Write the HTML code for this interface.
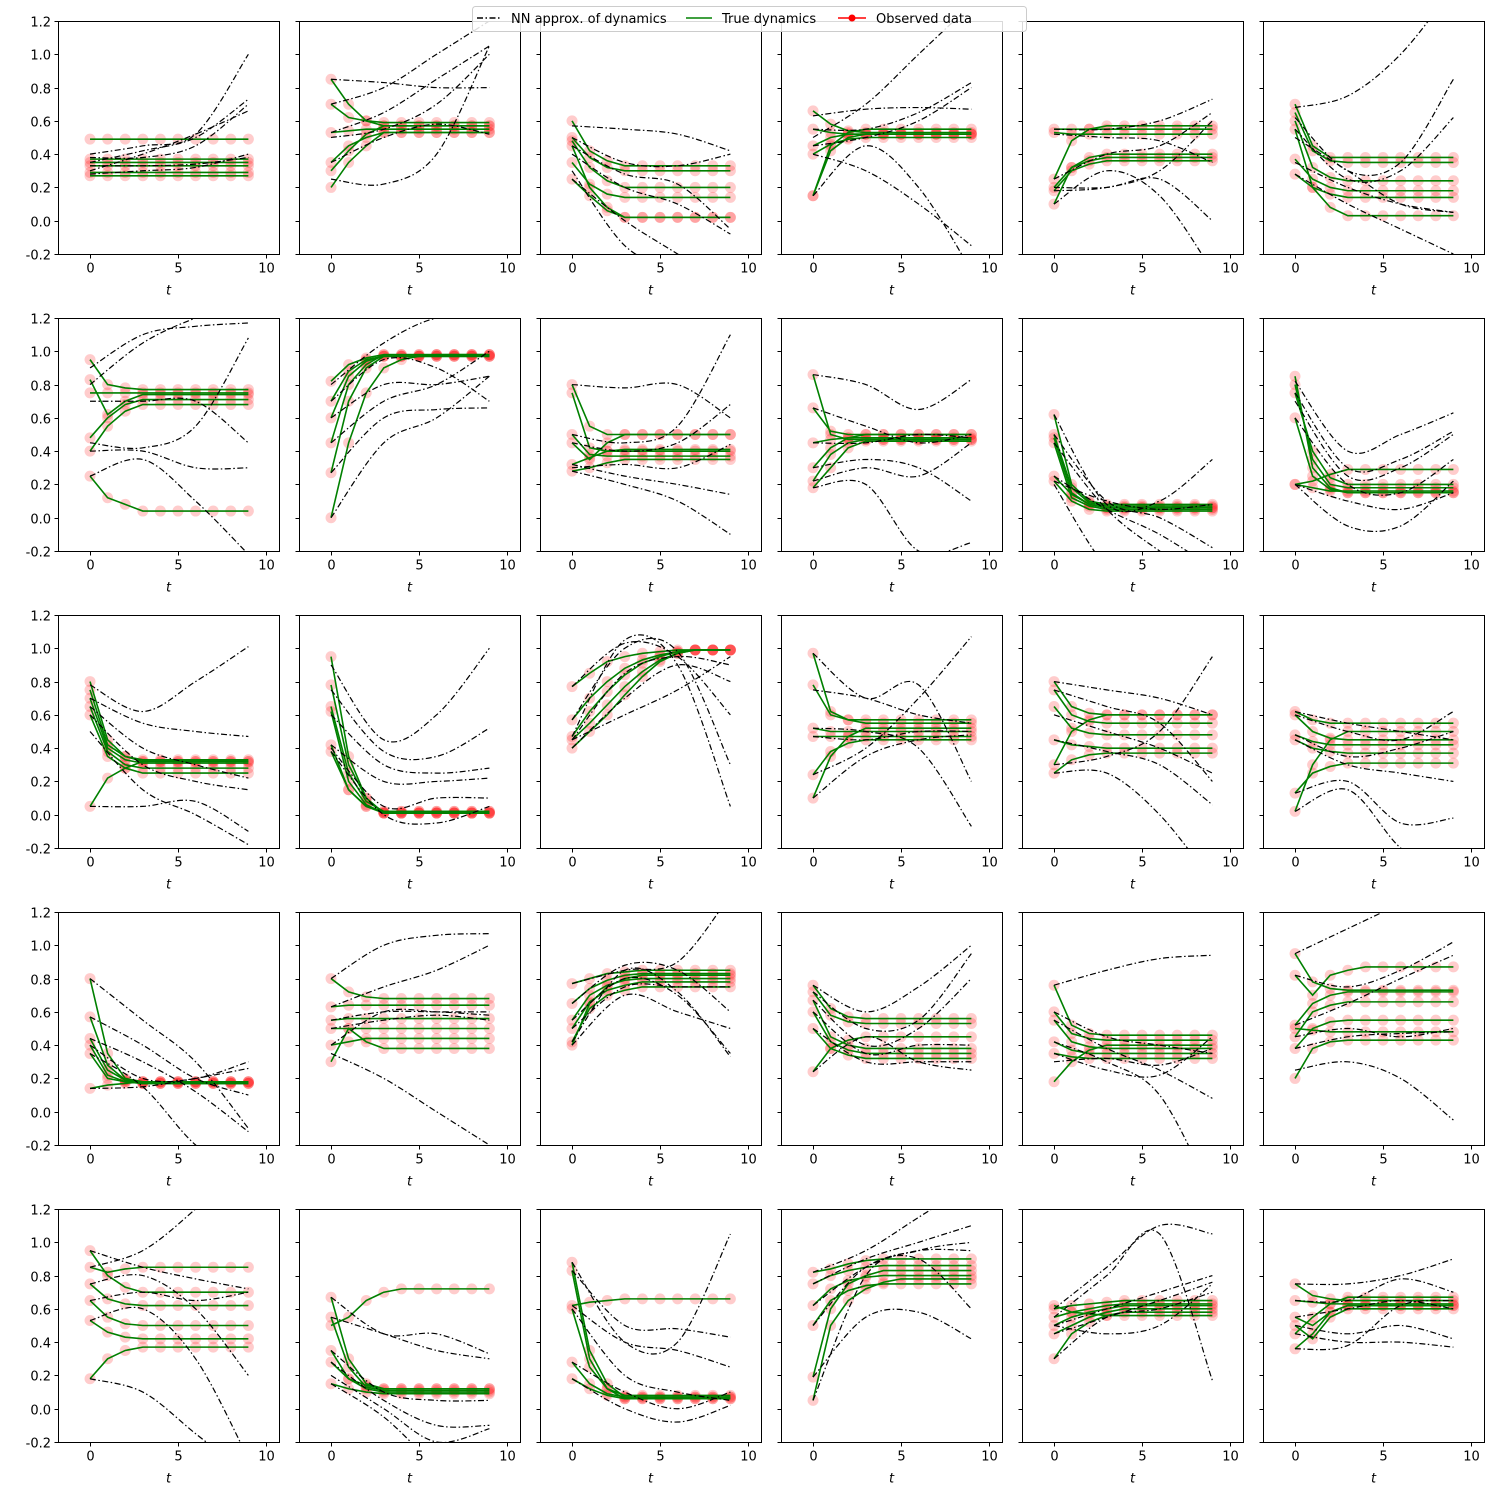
<!DOCTYPE html>
<html><head><meta charset="utf-8"><style>
html,body{margin:0;padding:0;background:#fff}
svg{display:block;font-family:"DejaVu Sans","Liberation Sans",sans-serif}
</style></head><body>
<svg id="chart" width="1500" height="1500" viewBox="0 0 1500 1500" xmlns="http://www.w3.org/2000/svg">
<rect width="1500" height="1500" fill="#fff"/>
<g>
<rect x="472.5" y="6.5" width="554" height="25" rx="3" fill="#fff" fill-opacity="0.85" stroke="#ccc"/>
<line x1="477" y1="18" x2="501" y2="18" stroke="#000" stroke-width="1.5" stroke-dasharray="6,2.5,1.5,2.5"/>
<text x="511" y="23" font-size="13">NN approx. of dynamics</text>
<line x1="686" y1="18" x2="712" y2="18" stroke="#008000" stroke-width="1.5"/>
<text x="722" y="23" font-size="13">True dynamics</text>
<line x1="838" y1="18" x2="866" y2="18" stroke="#ff0000" stroke-width="1.5"/>
<circle cx="852" cy="18" r="3.5" fill="#ff0000"/>
<text x="876" y="23" font-size="13">Observed data</text>
</g>
</svg>
<script>
const xTicks=[0,5,10];
const yTicks=[-0.2,0.0,0.2,0.4,0.6,0.8,1.0,1.2];
const tSteps=[0,1,2,3,4,5,6,7,8,9];
const blackT=[0,3,6,9];
// green: values at t=0,1,2,... then held flat to t=9; black: values at t=0,3,6,9
const G=[
[[0.49],[0.37],[0.35],[0.33],[0.29],[0.27]],
[[0.85,0.7,0.6,0.57],[0.70,0.62,0.6,0.59],[0.53,0.54,0.55,0.55],[0.35,0.45,0.5,0.53],[0.30,0.42,0.52,0.57],[0.20,0.35,0.45,0.53]],
[[0.6,0.42,0.36,0.33],[0.5,0.38,0.32,0.30],[0.48,0.32,0.24,0.20],[0.35,0.22,0.16,0.14],[0.25,0.15,0.06,0.02],[0.45,0.2,0.08,0.02]],
[[0.66,0.58,0.54,0.53],[0.55,0.53,0.52,0.52],[0.45,0.5,0.52,0.52],[0.15,0.42,0.5,0.52],[0.40,0.46,0.49,0.50],[0.15,0.45,0.53,0.55]],
[[0.55,0.55,0.55,0.55],[0.53,0.52,0.52,0.52],[0.25,0.48,0.55,0.57],[0.20,0.32,0.36,0.38],[0.10,0.32,0.38,0.40],[0.18,0.3,0.34,0.36]],
[[0.70,0.45,0.38,0.38],[0.65,0.42,0.36,0.35],[0.60,0.32,0.26,0.24],[0.37,0.25,0.2,0.18],[0.28,0.2,0.16,0.14],[0.55,0.2,0.08,0.03]],
[[0.95,0.8,0.78,0.77],[0.83,0.62,0.7,0.74],[0.75,0.75,0.75,0.75],[0.48,0.6,0.68,0.71],[0.40,0.55,0.64,0.68],[0.25,0.12,0.08,0.04]],
[[0.82,0.92,0.96,0.98],[0.70,0.88,0.95,0.97],[0.60,0.85,0.94,0.97],[0.45,0.8,0.92,0.98],[0.27,0.7,0.9,0.97],[0.0,0.45,0.75,0.9,0.95,0.97,0.98]],
[[0.8,0.55,0.5,0.5],[0.75,0.42,0.4,0.4],[0.5,0.38,0.37,0.37],[0.45,0.35,0.45,0.5],[0.32,0.36,0.4,0.41],[0.28,0.3,0.33,0.35]],
[[0.86,0.5,0.47,0.47],[0.66,0.52,0.5,0.5],[0.45,0.47,0.48,0.48],[0.30,0.42,0.48,0.50],[0.22,0.38,0.45,0.47],[0.18,0.3,0.42,0.46]],
[[0.62,0.2,0.1,0.08],[0.5,0.18,0.09,0.07],[0.48,0.15,0.08,0.06],[0.45,0.12,0.07,0.05],[0.25,0.14,0.08,0.06],[0.22,0.1,0.05,0.04]],
[[0.85,0.3,0.18,0.15],[0.80,0.35,0.2,0.18],[0.75,0.4,0.24,0.20],[0.60,0.25,0.17,0.15],[0.20,0.22,0.26,0.29],[0.20,0.18,0.16,0.16]],
[[0.8,0.45,0.35,0.32],[0.75,0.42,0.35,0.33],[0.7,0.4,0.33,0.31],[0.65,0.38,0.3,0.28],[0.6,0.35,0.28,0.25],[0.05,0.22,0.28,0.32]],
[[0.95,0.35,0.1,0.01],[0.78,0.3,0.1,0.01],[0.65,0.25,0.08,0.02],[0.62,0.2,0.06,0.01],[0.42,0.15,0.05,0.02],[0.38,0.15,0.05,0.01]],
[[0.77,0.85,0.92,0.95,0.97,0.98,0.99],[0.57,0.7,0.8,0.88,0.93,0.96,0.98,0.99],[0.47,0.62,0.74,0.84,0.91,0.95,0.98,0.99],[0.45,0.55,0.66,0.77,0.86,0.93,0.97,0.99],[0.40,0.5,0.6,0.72,0.83,0.92,0.97,0.99]],
[[0.97,0.62,0.57,0.55],[0.78,0.6,0.57,0.57],[0.52,0.5,0.5,0.50],[0.47,0.47,0.47,0.47],[0.24,0.38,0.43,0.45],[0.10,0.35,0.47,0.52]],
[[0.8,0.65,0.61,0.6],[0.75,0.6,0.56,0.55],[0.65,0.52,0.49,0.48],[0.45,0.42,0.41,0.40],[0.30,0.5,0.57,0.60],[0.25,0.33,0.36,0.37]],
[[0.62,0.57,0.55,0.55],[0.6,0.5,0.46,0.45],[0.48,0.44,0.42,0.42],[0.45,0.4,0.38,0.37],[0.13,0.25,0.29,0.31],[0.02,0.3,0.45,0.50]],
[[0.8,0.35,0.2,0.18],[0.57,0.28,0.19,0.17],[0.44,0.25,0.19,0.18],[0.40,0.22,0.18,0.17],[0.35,0.2,0.18,0.17],[0.14,0.16,0.17,0.18]],
[[0.8,0.72,0.69,0.68],[0.63,0.64,0.64,0.64],[0.55,0.56,0.56,0.56],[0.5,0.5,0.5,0.50],[0.40,0.42,0.44,0.44],[0.30,0.5,0.42,0.38]],
[[0.77,0.8,0.83,0.84,0.85],[0.65,0.74,0.79,0.82,0.83],[0.55,0.7,0.76,0.79,0.80],[0.50,0.66,0.73,0.76,0.78],[0.42,0.62,0.7,0.73,0.75],[0.40,0.65,0.75,0.8,0.82]],
[[0.76,0.62,0.57,0.56],[0.72,0.58,0.54,0.53],[0.67,0.45,0.4,0.38],[0.6,0.42,0.37,0.35],[0.5,0.38,0.34,0.32],[0.24,0.38,0.43,0.45]],
[[0.76,0.52,0.47,0.46],[0.60,0.47,0.44,0.43],[0.55,0.42,0.39,0.38],[0.42,0.37,0.35,0.35],[0.35,0.33,0.32,0.32],[0.18,0.3,0.37,0.40]],
[[0.95,0.78,0.74,0.73],[0.82,0.7,0.82,0.85,0.87],[0.52,0.65,0.7,0.72],[0.45,0.6,0.64,0.66],[0.38,0.5,0.54,0.55],[0.20,0.38,0.42,0.43],[0.5,0.49,0.48,0.48]],
[[0.95,0.8,0.73,0.70],[0.85,0.82,0.84,0.85],[0.75,0.66,0.63,0.62],[0.65,0.55,0.51,0.50],[0.53,0.46,0.43,0.42],[0.18,0.3,0.35,0.37]],
[[0.5,0.55,0.65,0.7,0.72],[0.67,0.3,0.15,0.12],[0.55,0.25,0.13,0.11],[0.35,0.18,0.12,0.10],[0.28,0.18,0.14,0.12],[0.15,0.12,0.1,0.09]],
[[0.88,0.35,0.15,0.07],[0.83,0.3,0.12,0.06],[0.62,0.64,0.65,0.66],[0.28,0.15,0.09,0.07],[0.18,0.12,0.08,0.06],[0.60,0.25,0.12,0.08]],
[[0.82,0.84,0.87,0.89,0.90],[0.75,0.8,0.83,0.85,0.86],[0.62,0.72,0.77,0.79,0.80],[0.5,0.65,0.71,0.74,0.75],[0.19,0.6,0.75,0.8,0.83],[0.05,0.5,0.65,0.72,0.76,0.78]],
[[0.6,0.62,0.63,0.64,0.65],[0.55,0.58,0.6,0.62,0.63],[0.5,0.55,0.58,0.6,0.62],[0.45,0.5,0.55,0.58,0.60],[0.3,0.45,0.52,0.56,0.58],[0.62,0.58,0.57,0.56]],
[[0.75,0.68,0.66,0.65],[0.65,0.64,0.63,0.63],[0.55,0.5,0.58,0.62],[0.5,0.42,0.55,0.60],[0.45,0.55,0.63,0.67],[0.36,0.45,0.58,0.62]]
];
const B=[
[[0.40,0.45,0.52,1.0],[0.35,0.42,0.50,0.73],[0.30,0.40,0.52,0.66],[0.38,0.38,0.45,0.70],[0.33,0.33,0.34,0.38],[0.28,0.30,0.32,0.40]],
[[0.85,0.83,0.80,0.80],[0.70,0.80,1.0,1.2],[0.53,0.65,0.85,1.05],[0.50,0.55,0.70,1.0],[0.35,0.5,0.58,0.52],[0.25,0.22,0.40,1.05]],
[[0.57,0.55,0.52,0.42],[0.5,0.35,0.33,0.40],[0.45,0.28,0.22,-0.05],[0.4,0.20,0.1,-0.08],[0.3,-0.15,-0.3,-0.4],[0.25,0.0,-0.2,-0.4]],
[[0.63,0.67,0.68,0.67],[0.5,0.7,1.0,1.3],[0.55,0.55,0.65,0.83],[0.45,0.5,0.6,0.8],[0.40,0.3,0.1,-0.15],[0.15,0.45,0.2,-0.3]],
[[0.55,0.55,0.60,0.73],[0.52,0.5,0.48,0.35],[0.25,0.4,0.45,0.65],[0.20,0.2,0.25,0.0],[0.1,0.3,0.15,-0.3],[0.18,0.2,0.3,0.6]],
[[0.68,0.75,1.0,1.4],[0.62,0.3,0.35,0.85],[0.55,0.25,0.3,0.62],[0.35,0.2,0.1,0.05],[0.28,0.1,-0.05,-0.2],[0.5,0.3,0.1,0.05]],
[[0.9,1.1,1.15,1.17],[0.8,1.05,1.2,1.3],[0.7,0.7,0.7,0.45],[0.45,0.42,0.55,1.08],[0.4,0.4,0.3,0.3],[0.25,0.35,0.1,-0.22]],
[[0.8,1.05,1.2,1.2],[0.7,0.95,0.9,0.7],[0.6,0.8,0.8,0.85],[0.45,0.7,0.8,1.0],[0.27,0.6,0.65,0.66],[0.0,0.45,0.6,0.85]],
[[0.8,0.78,0.8,0.6],[0.5,0.45,0.55,1.1],[0.45,0.4,0.45,0.68],[0.3,0.32,0.3,0.44],[0.32,0.25,0.2,0.14],[0.28,0.2,0.1,-0.1]],
[[0.86,0.8,0.65,0.83],[0.66,0.55,0.45,0.5],[0.45,0.45,0.5,0.48],[0.30,0.35,0.3,0.1],[0.22,0.3,0.25,0.45],[0.18,0.2,-0.2,-0.15]],
[[0.62,0.08,0.1,0.35],[0.5,0.1,0.0,-0.18],[0.45,0.05,-0.2,-0.4],[0.25,0.05,-0.1,-0.3],[0.2,-0.3,-0.5,-0.5],[0.22,0.1,0.05,0.08]],
[[0.82,0.4,0.5,0.63],[0.75,0.3,0.35,0.52],[0.7,0.25,0.3,0.5],[0.6,0.2,0.15,0.35],[0.2,0.1,0.05,0.15],[0.2,-0.05,-0.05,0.22]],
[[0.78,0.62,0.8,1.01],[0.7,0.55,0.5,0.47],[0.65,0.4,0.3,0.22],[0.6,0.3,0.2,0.15],[0.5,0.15,0.0,-0.18],[0.05,0.05,0.08,-0.1]],
[[0.9,0.45,0.6,1.0],[0.75,0.38,0.35,0.52],[0.6,0.3,0.25,0.28],[0.42,0.2,0.2,0.22],[0.4,0.05,0.1,0.1],[0.38,0.0,-0.05,0.05]],
[[0.77,1.03,0.95,0.6],[0.57,1.0,0.98,0.3],[0.47,1.05,0.9,0.05],[0.45,0.85,0.95,0.9],[0.40,0.7,0.9,0.8],[0.45,0.6,0.75,0.95]],
[[0.97,0.7,0.78,0.2],[0.75,0.7,0.6,0.55],[0.52,0.5,0.4,-0.07],[0.47,0.45,0.5,0.5],[0.24,0.4,0.7,1.07],[0.1,0.35,0.45,0.48]],
[[0.8,0.75,0.7,0.6],[0.75,0.65,0.55,0.2],[0.6,0.5,0.4,0.25],[0.45,0.38,0.3,0.06],[0.3,0.35,0.5,0.95],[0.25,0.25,0.0,-0.4]],
[[0.62,0.55,0.5,0.45],[0.6,0.5,0.45,0.62],[0.48,0.35,0.4,0.5],[0.45,0.3,0.25,0.2],[0.13,0.2,-0.05,-0.02],[0.02,0.15,-0.2,-0.4]],
[[0.8,0.55,0.3,-0.1],[0.57,0.4,0.2,0.1],[0.44,0.3,0.12,-0.12],[0.40,0.2,0.2,0.3],[0.35,0.15,-0.2,-0.4],[0.14,0.15,0.2,0.26]],
[[0.8,1.0,1.06,1.07],[0.63,0.75,0.85,1.0],[0.55,0.6,0.6,0.6],[0.5,0.55,0.58,0.55],[0.4,0.6,0.6,0.58],[0.35,0.2,0.0,-0.2]],
[[0.77,0.85,0.9,1.3],[0.65,0.88,0.85,0.6],[0.55,0.8,0.7,0.35],[0.5,0.75,0.75,0.75],[0.42,0.85,0.72,0.33],[0.40,0.7,0.6,0.5]],
[[0.76,0.6,0.75,1.0],[0.72,0.5,0.55,0.95],[0.67,0.4,0.5,0.8],[0.6,0.35,0.4,0.4],[0.5,0.3,0.3,0.3],[0.24,0.45,0.3,0.25]],
[[0.76,0.85,0.92,0.94],[0.6,0.45,0.4,0.35],[0.55,0.38,0.25,0.08],[0.42,0.3,0.1,-0.5],[0.35,0.25,0.22,0.45],[0.3,0.32,0.28,0.38]],
[[0.95,1.1,1.25,1.4],[0.82,0.75,0.85,1.02],[0.52,0.65,0.8,0.94],[0.45,0.5,0.45,0.5],[0.38,0.45,0.47,0.48],[0.25,0.3,0.2,-0.05]],
[[0.95,0.85,0.78,0.72],[0.85,0.95,1.2,1.5],[0.75,0.8,0.6,0.2],[0.65,0.7,0.65,0.7],[0.53,0.6,0.3,-0.3],[0.18,0.1,-0.15,-0.4]],
[[0.67,0.45,0.45,0.33],[0.55,0.45,0.35,0.3],[0.35,0.1,0.05,0.05],[0.28,0.05,-0.1,-0.1],[0.2,0.0,-0.2,-0.12],[0.15,-0.05,-0.35,-0.6]],
[[0.88,0.4,0.4,1.05],[0.83,0.5,0.48,0.43],[0.62,0.4,0.35,0.25],[0.28,0.1,0.0,0.1],[0.18,0.0,-0.08,0.02],[0.6,0.2,0.1,0.05]],
[[0.82,0.95,1.15,1.35],[0.75,0.9,1.0,1.1],[0.62,0.85,0.95,0.95],[0.5,0.85,0.9,0.6],[0.19,0.55,0.58,0.42],[0.05,0.8,0.95,1.0]],
[[0.6,0.85,1.1,1.05],[0.55,0.8,1.05,0.17],[0.5,0.6,0.7,0.8],[0.45,0.55,0.65,0.76],[0.3,0.55,0.6,0.7],[0.5,0.45,0.5,0.75]],
[[0.75,0.75,0.8,0.9],[0.65,0.65,0.78,0.7],[0.55,0.6,0.65,0.6],[0.5,0.45,0.5,0.42],[0.45,0.4,0.4,0.37],[0.36,0.38,0.62,0.65]]
];
const NS="http://www.w3.org/2000/svg";
const svg=document.getElementById('chart');
const legend=svg.lastElementChild;
const PW=221,PH=233,X0=58,Y0=21,DX=241,DY=297;
const XMIN=-1.82,XMAX=10.74,YMIN=-0.2,YMAX=1.2;
function mk(tag,attrs,parent){const e=document.createElementNS(NS,tag);for(const k in attrs)e.setAttribute(k,attrs[k]);parent.appendChild(e);return e;}
const defs=mk('defs',{},svg);
for(let p=0;p<30;p++){
  const r=Math.floor(p/6),c=p%6;
  const L=X0+c*DX,T=Y0+r*DY;
  const sx=v=>L+(v-XMIN)/(XMAX-XMIN)*PW;
  const sy=v=>T+(YMAX-v)/(YMAX-YMIN)*PH;
  const g=mk('g',{},svg);
  
  
  const cp=mk('clipPath',{id:'cp'+p},defs);
  mk('rect',{x:L,y:T,width:PW,height:PH},cp);
  const plot=mk('g',{'clip-path':'url(#cp'+p+')'},g);
  // green + dots
  G[p].forEach((s,si)=>{
    const vals=tSteps.map(t=>t<s.length?s[t]:s[s.length-1]);
    const dots=mk('g',{},plot);
    
    
    vals.forEach((v,t)=>{
      const ci=mk('circle',{cx:sx(tSteps[t]),cy:sy(v),r:5.5,fill:'#ff0000','fill-opacity':0.2},dots);
    });
  });
  G[p].forEach((s,si)=>{
    const vals=tSteps.map(t=>t<s.length?s[t]:s[s.length-1]);
    const pl=mk('polyline',{points:vals.map((v,t)=>sx(tSteps[t])+','+sy(v)).join(' '),fill:'none',stroke:'#008000','stroke-width':1.6},plot);
    
    
  });
  // black smooth dash-dot
  B[p].forEach(s=>{
    const pts=s.map((v,i)=>[sx(blackT[i]),sy(v)]);
    let d='M'+pts[0][0]+','+pts[0][1];
    for(let i=0;i<pts.length-1;i++){
      const p0=pts[Math.max(0,i-1)],p1=pts[i],p2=pts[i+1],p3=pts[Math.min(pts.length-1,i+2)];
      const c1=[p1[0]+(p2[0]-p0[0])/6,p1[1]+(p2[1]-p0[1])/6];
      const c2=[p2[0]-(p3[0]-p1[0])/6,p2[1]-(p3[1]-p1[1])/6];
      d+=' C'+c1[0]+','+c1[1]+' '+c2[0]+','+c2[1]+' '+p2[0]+','+p2[1];
    }
    const path=mk('path',{d:d,fill:'none',stroke:'#000','stroke-width':1.2,'stroke-dasharray':'6,2.5,1.5,2.5'},plot);
    
    
  });
  // frame
  const fr=mk('rect',{x:L+0.5,y:T+0.5,width:PW,height:PH,fill:'none',stroke:'#000','stroke-width':1},g);
  
  
  const B0=T+PH+0.5;
  xTicks.forEach(v=>{
    const x=Math.round(sx(v))+0.5;
    mk('line',{x1:x,y1:B0,x2:x,y2:B0+4,stroke:'#000'},g);
    const tx=mk('text',{x:x,y:B0+18,'font-size':13,'text-anchor':'middle'},g);
    tx.textContent=v;
    
    
  });
  const xl=mk('text',{x:L+PW/2,y:B0+40,'font-size':13,'text-anchor':'middle','font-style':'italic'},g);
  xl.textContent='t';
  
  
  yTicks.forEach(v=>{
    const y=Math.round(sy(v))+0.5;
    mk('line',{x1:L+0.5,y1:y,x2:L-3.5,y2:y,stroke:'#000'},g);
    if(c===0){
      const ty=mk('text',{x:L-7,y:y+5,'font-size':13,'text-anchor':'end'},g);
      ty.textContent=v.toFixed(1);
      
      
    }
  });
}
svg.appendChild(legend);
</script>
</body></html>
